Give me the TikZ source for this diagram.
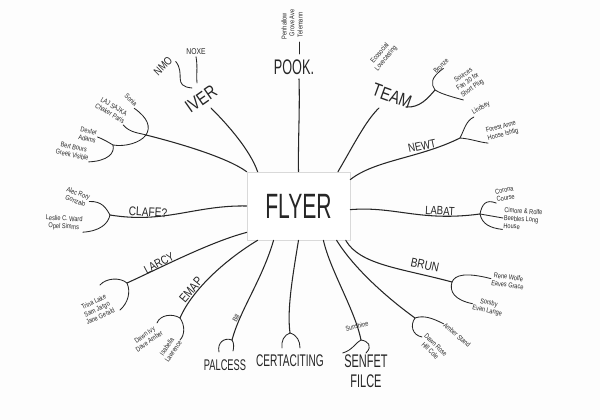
\documentclass[tikz,border=0pt]{standalone}
\usepackage{fontspec}
\setmainfont{Liberation Sans}[FakeStretch=0.8]
\newfontfamily\narrowhand{Liberation Sans}[FakeStretch=0.6]
\usetikzlibrary{shadows}

\definecolor{ink}{HTML}{262626}
\definecolor{paper}{HTML}{FDFDFD}

\tikzset{
  hub/.style={draw=gray!30, fill=white, text=ink, minimum width=2.575cm, minimum height=1.7cm,
    font=\narrowhand\fontsize{25}{25}\selectfont,
    drop shadow={shadow xshift=0.7pt, shadow yshift=-0.7pt, opacity=0.18}},
  topic/.style={text=ink, inner sep=1pt, align=center},
  note/.style={text=ink, inner sep=0.5pt, align=center, font=\fontsize{5}{5.6}\selectfont},
  branch/.style={draw=ink, line width=0.75pt, line cap=round},
  twig/.style={draw=ink, line width=0.6pt, line cap=round},
}

\begin{document}
\begin{tikzpicture}[x=0.025cm, y=-0.025cm]
  \fill[paper] (0,0) rectangle (600,420);
  \useasboundingbox (0,0) rectangle (600,420);

  \node[hub] (flyer) at (298.5,206) {FLYER};

  % top left
  \node[topic, font=\fontsize{13}{13}\selectfont, rotate=35] (iver) at (201,99) {IVER};
  \node[topic, font=\fontsize{8}{8}\selectfont, rotate=45] (nmo) at (163,66) {NMO};
  \node[topic, font=\fontsize{6}{6}\selectfont] (noxe) at (196,52) {NOXE};
  \coordinate (iverfoot) at (211,108);
  \coordinate (nmotail) at (192,88);
  \coordinate (noxetail) at (197,83);
  \draw[branch] (flyer.140) .. controls (250,150) and (228,125) .. (iverfoot);
  \draw[twig] (nmo.south east) .. controls (186,74) and (172,86) .. (nmotail);
  \draw[twig] (noxe.south) .. controls (198,68) and (196,76) .. (noxetail);

  \node[note, rotate=-45] (sonia) at (131,100) {Sonia};
  \node[note, rotate=-30] (lajsajka) at (112,110) {LAJ SAJKA\\Chaker Paris};
  \node[note, rotate=-12] (dexter) at (88,135) {Dexter\\Adams};
  \node[note, rotate=-12] (bert) at (73,151) {Bert Bours\\Greek Visible};
  \coordinate (soniafork) at (146,135);
  \coordinate (dexterfork) at (113,145);
  \draw[branch] (flyer.north west) .. controls (228,158) and (182,144) .. (soniafork);
  \draw[twig] (soniafork) .. controls (151,127) and (148,118) .. (sonia.south east);
  \draw[twig] (soniafork) .. controls (140,133) and (130,133) .. (lajsajka.south east);
  \draw[twig] (soniafork) .. controls (140,143) and (125,147) .. (dexterfork);
  \draw[twig] (dexterfork) .. controls (108,142) and (103,139) .. (dexter.east);
  \draw[twig] (dexterfork) .. controls (115,153) and (108,161) .. (bert.south east);

  % top
  \node[topic, font=\narrowhand\fontsize{15}{15}\selectfont] (pook) at (294,67) {POOK.};
  \coordinate (pookbase) at (299,79);
  \coordinate (pookneck) at (299,54);
  \coordinate (pooktop) at (299,42);
  \node[note, rotate=90, anchor=west] (penhallow) at (284,40) {Penhallow};
  \node[note, rotate=90, anchor=west] (groveave) at (292,37) {Grove Ave};
  \node[note, rotate=90, anchor=west] (telemann) at (300,38) {Telemann};
  \draw[branch] (flyer.north) .. controls (298,140) and (300,110) .. (pookbase);
  \draw[twig] (pookneck) -- (pooktop);

  % top right
  \node[topic, font=\fontsize{13}{13}\selectfont, rotate=-20] (team) at (392,96) {TEAM};
  \node[note, rotate=50] (ecosocial) at (383,56) {Ecosocial\\Lovecasting};
  \node[note, rotate=45] (bronze) at (441,66) {Bronze};
  \node[note, rotate=35] (sources) at (468,82) {Sources\\Fan 30 for\\Short Plug};
  \coordinate (teamfoot) at (379,108);
  \coordinate (teamtip) at (406,107);
  \coordinate (teamfork) at (435,90);
  \draw[branch] (flyer.41) .. controls (352,148) and (366,120) .. (teamfoot);
  \draw[branch] (teamtip) .. controls (420,108) and (428,98) .. (teamfork);
  \draw[twig] (teamfork) .. controls (431,84) and (430,78) .. (bronze.south);
  \draw[twig] (teamfork) .. controls (440,93) and (445,95) .. (sources.south west);

  \node[topic, font=\fontsize{8.5}{8.5}\selectfont, rotate=12] (newt) at (422,146) {NEWT};
  \node[note, rotate=30] (lindsey) at (481,108) {Lindsey};
  \node[note, rotate=15] (forest) at (502,131) {Forest Anne\\Hoose Ishtig};
  \coordinate (newtfork) at (460,138);
  \draw[branch] (flyer.27) .. controls (375,160) and (420,158) .. (newtfork);
  \draw[twig] (newtfork) .. controls (465,128) and (466,121) .. (lindsey.south west);
  \draw[twig] (newtfork) .. controls (472,139) and (478,142) .. (forest.south west);

  % right
  \node[topic, font=\fontsize{8.5}{8.5}\selectfont, rotate=-3] (labat) at (440,211) {LABAT};
  \node[note, rotate=10] (corona) at (505,194) {Corona\\Course};
  \node[note, rotate=-3, anchor=west, align=left] (cimore) at (503,218) {Cimore \& Rolfe\\Beebles Long\\House};
  \coordinate (labatfork) at (480,214);
  \draw[branch] (flyer.-4) .. controls (395,206) and (420,222) .. (labatfork);
  \draw[twig] (labatfork) .. controls (482,204) and (486,199) .. (corona.south west);
  \draw[twig] (labatfork) -- (cimore.west);
  \draw[twig] (labatfork) .. controls (482,224) and (490,228) .. (cimore.south west);

  \node[topic, font=\fontsize{9}{9}\selectfont, rotate=-12] (brun) at (425,265) {BRUN};
  \node[note, rotate=-8] (rene) at (508,281) {Rene Wolfe\\Eaves Grace};
  \node[note, rotate=-12] (sorsby) at (488,307) {Sorsby\\Evan Lange};
  \coordinate (brunfork) at (452,282);
  \draw[branch] (flyer.-36) .. controls (360,265) and (400,268) .. (brunfork);
  \draw[twig] (brunfork) .. controls (455,275) and (465,272) .. (rene.west);
  \draw[twig] (brunfork) .. controls (449,292) and (455,300) .. (sorsby.west);

  % bottom right
  \node[note, rotate=-40] (amber) at (457,335) {Amber Stand};
  \node[note, rotate=-45] (dawnrose) at (433,348) {Dawn Rose\\Hill Cole};
  \coordinate (amberfork) at (415,318);
  \draw[branch] (flyer.-42) .. controls (355,270) and (390,300) .. (amberfork);
  \draw[twig] (amberfork) .. controls (424,315) and (432,318) .. (amber.west);
  \draw[twig] (amberfork) .. controls (410,325) and (412,335) .. (dawnrose.west);

  \node[topic, font=\narrowhand\fontsize{13}{14}\selectfont] (senfet) at (366,371) {SENFET\\FILCE};
  \node[note, rotate=15] (sunshine) at (357,326) {Sunshine};
  \coordinate (senfetfork) at (361,340);
  \draw[branch] (flyer.-54) .. controls (330,270) and (355,310) .. (senfetfork);
  \draw[twig] (senfetfork) .. controls (356,342) and (353,350) .. (senfet.north west);
  \draw[twig] (senfetfork) .. controls (368,341) and (373,346) .. (senfet.north);

  % bottom
  \node[topic, font=\narrowhand\fontsize{12}{12}\selectfont] (certa) at (290,361) {CERTACITING};
  \coordinate (certafork) at (290,333);
  \draw[branch] (flyer.south) .. controls (292,280) and (287,310) .. (certafork);
  \draw[twig] (certafork) .. controls (284,335) and (281,341) .. (282,348);
  \draw[twig] (certafork) .. controls (297,335) and (300,341) .. (300,348);

  \node[topic, font=\narrowhand\fontsize{11}{11}\selectfont] (palcess) at (225,365) {PALCESS};
  \node[note, rotate=60] (bill) at (236,318) {Bill};
  \coordinate (palcessfork) at (232,340);
  \draw[branch] (flyer.-126) .. controls (262,280) and (240,310) .. (palcessfork);
  \draw[twig] (palcessfork) .. controls (224,337) and (217,343) .. (219,352);
  \draw[twig] (palcessfork) .. controls (234,343) and (234,347) .. (233,351);

  % bottom left
  \node[topic, font=\fontsize{9}{9}\selectfont, rotate=50] (emap) at (191,290) {EMAP};
  \node[note, rotate=35] (dawnivy) at (147,338) {Dawn Ivy\\Dave Amber};
  \node[note, rotate=55] (isabella) at (170,349) {Isabella\\Lawrence};
  \coordinate (emapfork) at (180,318);
  \draw[branch] (flyer.-140) .. controls (225,260) and (192,290) .. (emapfork);
  \draw[twig] (emapfork) .. controls (172,313) and (160,315) .. (157,323);
  \draw[twig] (emapfork) .. controls (185,325) and (185,335) .. (180,340);

  \node[topic, font=\fontsize{8.5}{8.5}\selectfont, rotate=28] (larcy) at (159,263) {LARCY};
  \node[note, rotate=25] (trina) at (97,309) {Trina Lake\\Sam Jargo\\Jane Gerald};
  \coordinate (larcyfork) at (127,283);
  \draw[branch] (flyer.-153) .. controls (210,242) and (160,268) .. (larcyfork);
  \draw[twig] (larcyfork) .. controls (120,277) and (106,278) .. (100,285);
  \draw[twig] (larcyfork) .. controls (131,292) and (128,303) .. (120,310);

  % left
  \node[topic, font=\fontsize{9}{9}\selectfont, rotate=-3] (clafe) at (148,212) {CLAFE?};
  \node[note, rotate=-20] (alec) at (77,197) {Alec Rory\\Gonzalo};
  \node[note, rotate=-3] (leslie) at (64,223) {Leslie C. Ward\\Opel Simms};
  \coordinate (clafefork) at (110,215);
  \draw[branch] (flyer.west) .. controls (195,205) and (165,224) .. (clafefork);
  \draw[twig] (clafefork) .. controls (106,208) and (102,201) .. (alec.east);
  \draw[twig] (clafefork) .. controls (108,224) and (100,231) .. (leslie.south east);
\end{tikzpicture}
\end{document}
